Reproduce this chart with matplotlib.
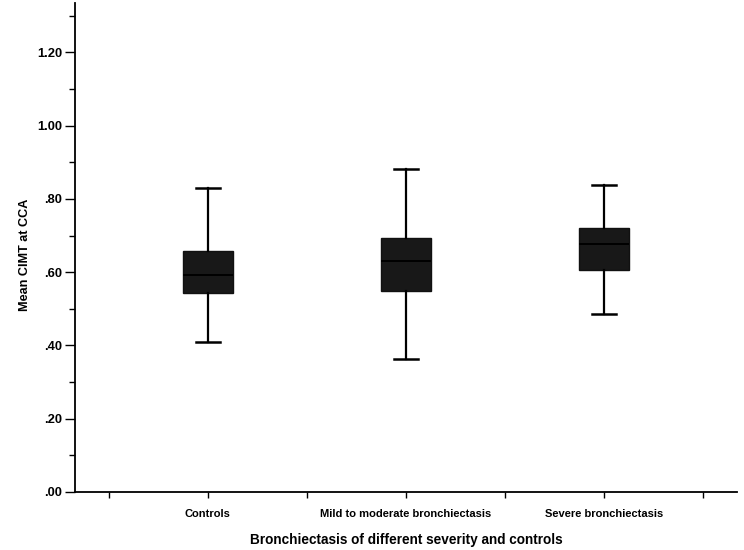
import matplotlib.pyplot as plt
import numpy as np

plt.rcParams['font.family'] = ['Liberation Sans', 'DejaVu Sans']

groups = ['Controls', 'Mild to moderate bronchiectasis', 'Severe bronchiectasis']
whisker_low = [0.409, 0.363, 0.487]
q1 = [0.543, 0.550, 0.605]
median = [0.592, 0.630, 0.676]
q3 = [0.659, 0.694, 0.720]
whisker_high = [0.830, 0.881, 0.837]

stats = []
for i in range(len(groups)):
    stats.append({'whislo': whisker_low[i], 'q1': q1[i], 'med': median[i],
                  'q3': q3[i], 'whishi': whisker_high[i], 'fliers': []})

fig = plt.figure(figsize=(7.44, 5.5), dpi=100)
ax = fig.add_axes([0.1008, 0.1055, 0.8898, 0.889])

pos = np.arange(1, len(groups) + 1)
ax.bxp(stats, positions=pos, widths=0.254, patch_artist=True, showfliers=False,
       boxprops=dict(facecolor='#181818', edgecolor='#111111', linewidth=1.0),
       medianprops=dict(color='black', linewidth=1.4),
       whiskerprops=dict(color='black', linewidth=1.6),
       capprops=dict(color='black', linewidth=1.8),
       capwidths=0.123)

ax.set_xlim(0.33, 3.67)
ax.set_ylim(0, 1.335)

ax.set_yticks(np.arange(0, 1.21, 0.2))
ax.set_yticklabels(['.00', '.20', '.40', '.60', '.80', '1.00', '1.20'],
                   fontsize=9.3, fontweight='bold')
ax.set_yticks(np.arange(0.1, 1.31, 0.2), minor=True)
ax.set_xticks(pos)
ax.set_xticklabels(groups, fontsize=8, fontweight='bold')
ax.set_xticks(np.arange(0.5, 3.6, 1.0), minor=True)

ax.tick_params(axis='y', which='major', length=7, width=1, pad=2)
ax.tick_params(axis='y', which='minor', length=4, width=1)
ax.tick_params(axis='x', which='both', length=4, width=1, pad=8)

for s in ['top', 'right']:
    ax.spines[s].set_visible(False)
for s in ['left', 'bottom']:
    ax.spines[s].set_linewidth(1.3)

ax.set_xlabel('Bronchiectasis of different severity and controls',
              fontsize=9.8, fontweight='bold', labelpad=10)
ax.set_ylabel('Mean CIMT at CCA', fontsize=9.1, fontweight='bold')
ax.yaxis.set_label_coords(-0.066, 0.485)

fig.savefig('out.png', dpi=100)
